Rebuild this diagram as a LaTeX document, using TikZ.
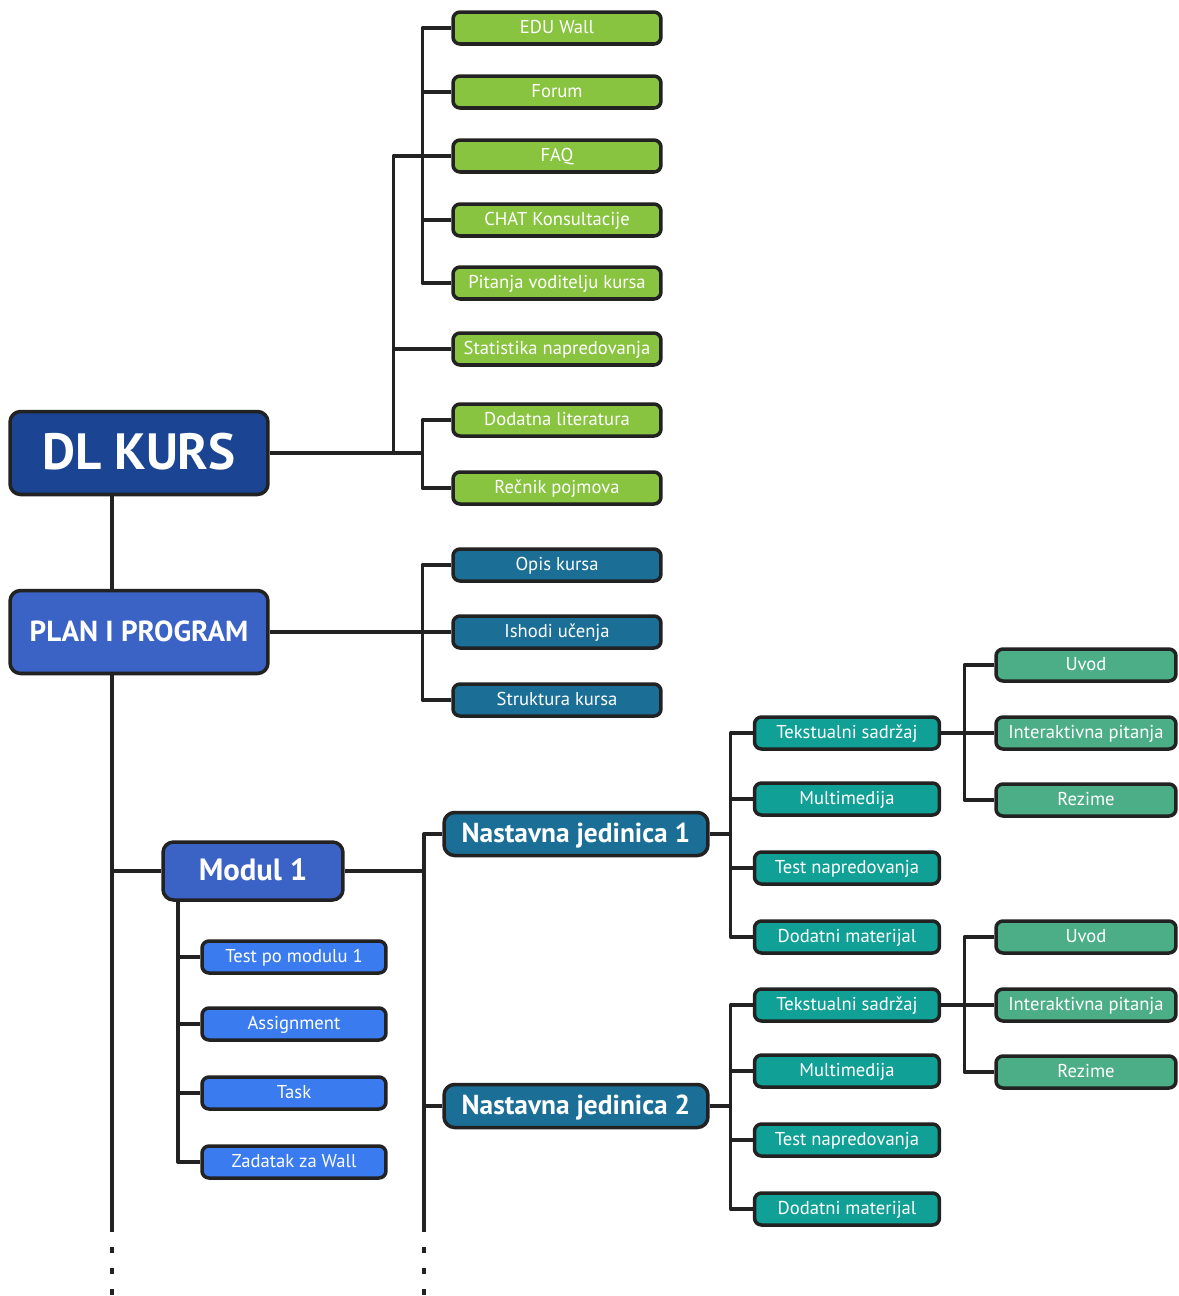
\documentclass[tikz,border=0pt]{standalone}
\usepackage{fontspec}
\setmainfont{PT Sans}
\usetikzlibrary{positioning,calc}
\definecolor{linegray}{HTML}{222222}
\definecolor{kursblue}{HTML}{1B4592}
\definecolor{planblue}{HTML}{3B63C6}
\definecolor{taskblue}{HTML}{3A7BEF}
\definecolor{limegreen}{HTML}{88C43F}
\definecolor{petrol}{HTML}{1B6F96}
\definecolor{tealbox}{HTML}{11A096}
\definecolor{seagreen}{HTML}{4BAE87}
\newcommand \branchdown[3]
{
\draw[link] (#1.west)--++(-#3,0) |- (#2.west);
}

\begin{document}
\begin{tikzpicture}[x=0.02cm,y=-0.02cm, line join=round,
  box/.style={draw=linegray, line width=2pt, rounded corners=4pt, text=white, inner sep=0pt, minimum height=0.64cm, text depth=0.3ex},
  greenbox/.style={box, fill=limegreen, minimum width=4.16cm, font=\fontsize{10.6}{12}\selectfont},
  petrolbox/.style={box, fill=petrol, minimum width=4.16cm, font=\fontsize{10.6}{12}\selectfont},
  taskbox/.style={box, fill=taskblue, minimum width=3.68cm, font=\fontsize{10.6}{12}\selectfont},
  tealsbox/.style={box, fill=tealbox, minimum width=3.7cm, font=\fontsize{10.6}{12}\selectfont},
  seabox/.style={box, fill=seagreen, minimum width=3.6cm, font=\fontsize{10.6}{12}\selectfont},
  bigbox/.style={box, rounded corners=6pt, font=\bfseries},
  link/.style={draw=linegray, line width=1.9pt}]
\useasboundingbox (0,0) rectangle (1178,1296);
\coordinate (trunk) at (112,0);
\coordinate (mtrunk) at (178,0);
\coordinate (trunkend) at (112,1232);
\coordinate (jend) at (424,1232);
% main boxes
\node[bigbox, fill=kursblue, minimum width=5.16cm, minimum height=1.66cm, font=\bfseries\fontsize{29}{32}\selectfont] (kurs) at (139,453) {DL KURS};
\node[bigbox, fill=planblue, minimum width=5.16cm, minimum height=1.66cm, font=\bfseries\fontsize{16.5}{18}\selectfont] (plan) at (139,632) {PLAN I PROGRAM};
\node[bigbox, fill=planblue, minimum width=3.6cm, minimum height=1.16cm, font=\bfseries\fontsize{17.5}{20}\selectfont] (mod) at (253,871) {Modul 1};
\node[bigbox, fill=petrol, minimum width=5.28cm, minimum height=0.86cm, font=\bfseries\fontsize{15.6}{17}\selectfont] (nja) at (576,834) {Nastavna jedinica 1};
\node[bigbox, fill=petrol, minimum width=5.28cm, minimum height=0.86cm, font=\bfseries\fontsize{15.6}{17}\selectfont] (njb) at (576,1106) {Nastavna jedinica 2};
% green column
\foreach \y/\name/\txt in {28/edu/EDU Wall, 92/forum/Forum, 156/faq/FAQ, 220/chat/CHAT Konsultacije, 283/pit/Pitanja voditelju kursa, 349/stat/Statistika napredovanja, 420/lit/Dodatna literatura, 488/rec/Rečnik pojmova}
  \node[greenbox] (\name) at (557,\y) {\txt};
\foreach \y/\name/\txt in {565/opis/Opis kursa, 632/ish/Ishodi učenja, 700/struk/Struktura kursa}
  \node[petrolbox] (\name) at (557,\y) {\txt};
\foreach \y/\name/\txt in {957/tpm/Test po modulu 1, 1024/asg/Assignment, 1093/task/Task, 1162/zad/Zadatak za Wall}
  \node[taskbox] (\name) at (294,\y) {\txt};
\foreach \y/\s in {733/a, 1005/b}
{
  \node[tealsbox] (tek\s) at (847,\y) {Tekstualni sadržaj};
  \node[tealsbox] (mul\s) at (847,\y+66) {Multimedija};
  \node[tealsbox] (tst\s) at (847,\y+135) {Test napredovanja};
  \node[tealsbox] (dom\s) at (847,\y+204) {Dodatni materijal};
  \node[seabox] (uvod\s) at (1086,\y-68) {Uvod};
  \node[seabox] (int\s) at (1086,\y) {Interaktivna pitanja};
  \node[seabox] (rez\s) at (1086,\y+67) {Rezime};
}
% DL KURS connectors
\draw[link] (kurs.east) -- ($(kurs.east -| lit.west)+(-29,0)$);
\draw[link] ($(kurs.east -| lit.west)+(-58,0)$) |- (faq.west);
\draw[link] ($(kurs.east -| lit.west)+(-58,0)$) |- (stat.west);
\branchdown{edu}{pit}{29}
\draw[link] (forum.west) -- ++(-29,0);
\draw[link] (chat.west) -- ++(-29,0);
\branchdown{lit}{rec}{29}
% plan
\draw[link] (kurs.south -| trunk) -- (plan.north -| trunk);
\draw[link] (plan.east) -- (ish.west);
\branchdown{opis}{struk}{29}
\draw[link] (plan.south -| trunk) -- (trunkend);
\draw[link, line width=2.3pt, dash pattern=on 0.12cm off 0.3cm] (112,1247) -- (112,1296);
% modul
\draw[link] (mod.west -| trunk) -- (mod.west);
\draw[link] (mod.south -| mtrunk) |- (zad.west);
\foreach \n in {tpm, asg, task}
  \draw[link] (\n.west) -- (\n.west -| mtrunk);
\draw[link] (mod.east) -- (mod.east -| jend);
\draw[link] (nja.west) -| (jend);
\draw[link] (njb.west) -- (njb.west -| jend);
\draw[link, line width=2.3pt, dash pattern=on 0.12cm off 0.3cm] (424,1247) -- (424,1296);
% nastavne jedinice
\foreach \s in {a, b}
{
  \branchdown{tek\s}{dom\s}{22}
  \draw[link] (mul\s.west) -- ++(-22,0);
  \draw[link] (tst\s.west) -- ++(-22,0);
  \draw[link] (nj\s.east) -- ($(nj\s.east -| tek\s.west)+(-22,0)$);
  \draw[link] (tek\s.east) -- (int\s.west);
  \branchdown{uvod\s}{rez\s}{30}
}
\end{tikzpicture}
\end{document}
